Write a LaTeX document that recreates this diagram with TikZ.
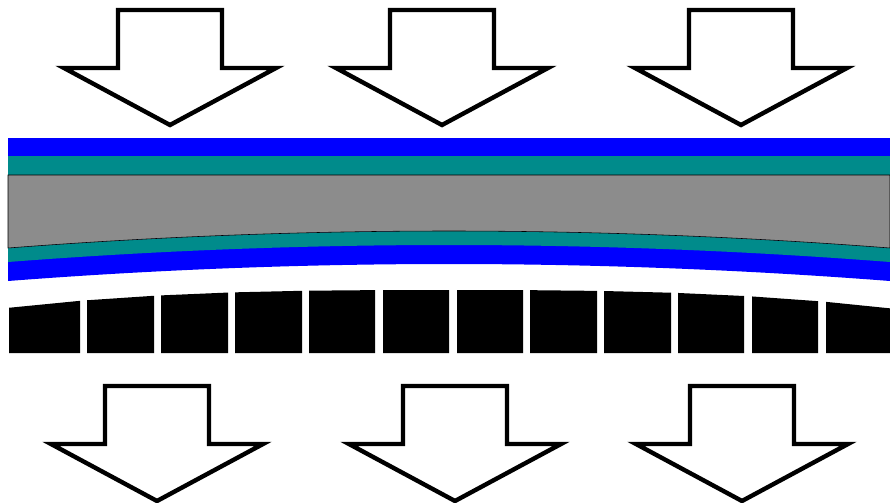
\documentclass[tikz,border=0pt]{standalone}
\usepackage{tikz}
\usepackage{xcolor}
\usetikzlibrary{calc}

\definecolor{filmblue}{RGB}{0,0,255}
\definecolor{filmteal}{RGB}{0,139,139}
\definecolor{coregray}{RGB}{140,140,140}

\begin{document}
\begin{tikzpicture} [
    x=0.25mm, y=-0.25mm,
    declare function = { bow(\t)=231+17*((\t-449)/441)^2;
                         blocktop(\t)=290+18*(abs(\t-447)/440)^2.8; },
    bigarrow/.style = { draw=black, line width=1.1mm, fill=white,
                        line join=miter },
    corefill/.style = { fill=coregray, draw=black, line width=0.4pt },
    curve/.style    = { domain=8:890, samples=60 },
  ]
  \useasboundingbox (0,0) rectangle (890,503);

  % flat layers on top
  \fill[filmblue] (8,138) rectangle (890,156);
  \fill[filmteal] (8,156) rectangle (890,175);

  % bent layers underneath
  \fill[filmblue] plot[curve] (\x,{bow(\x)+33})
    -- plot[domain=890:8, samples=60] (\x,{bow(\x)}) -- cycle;
  \fill[filmteal] plot[curve] (\x,{bow(\x)+14})
    -- plot[domain=890:8, samples=60] (\x,{bow(\x)}) -- cycle;
  \path[corefill] (8,175) -- (890,175)
    -- plot[domain=890:8, samples=60] (\x,{bow(\x)}) -- cycle;

  % black blocks
  \foreach \l/\r in {9/80, 87/154, 161/228, 235/302, 309/375, 383/449,
                     457/523, 530/597, 604/671, 678/744, 752/818, 826/890}
    \fill[black] (\l,353) -- (\l,{blocktop(\l)}) -- (\r,{blocktop(\r)})
      -- (\r,353) -- cycle;

  % arrows
  \foreach \cx/\ty in {170/10, 442/10, 741/10, 157/386, 455/386, 742/386}
    \draw[bigarrow] ({\cx-52},\ty) -- ({\cx+52},\ty) -- ({\cx+52},{\ty+58})
      -- ({\cx+106},{\ty+58}) -- (\cx,{\ty+115}) -- ({\cx-106},{\ty+58})
      -- ({\cx-52},{\ty+58}) -- cycle;

\end{tikzpicture}
\end{document}
